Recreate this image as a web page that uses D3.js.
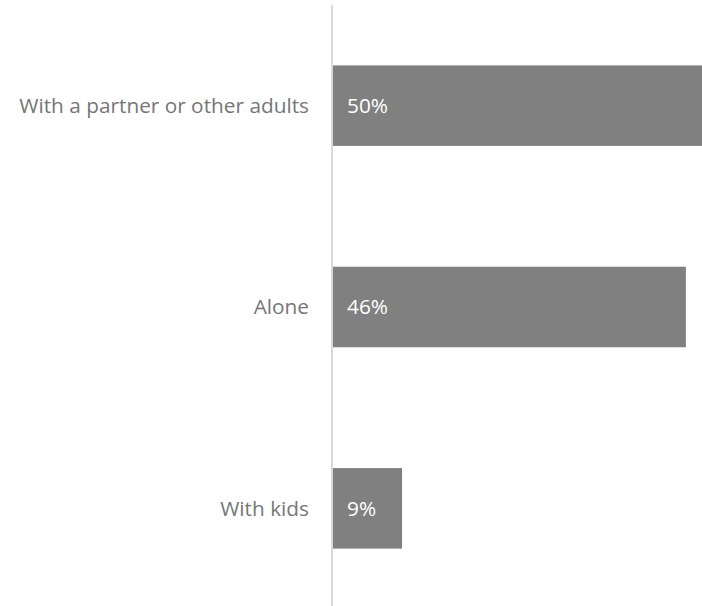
<!DOCTYPE html>
<html><head><meta charset="utf-8">
<script src="https://cdn.jsdelivr.net/npm/d3@7"></script>
<style>html,body{margin:0;padding:0;background:#fff;}svg{display:block;}</style>
</head><body>
<svg id="chart" width="702" height="606"></svg>
<script>
const categories = ["With a partner or other adults", "Alone", "With kids"];
const values = [50, 46, 9];
const valueLabels = ["50%", "46%", "9%"];

const W = 702, H = 606;
const svg = d3.select("#chart");
const x0 = 333;
const x = d3.scaleLinear().domain([0, 48.1]).range([x0, 702]);
const y = d3.scaleBand().domain(categories).range([5, 609]).paddingInner(0.6).paddingOuter(0.3);

svg.selectAll("rect.bar").data(categories).join("rect")
  .attr("class", "bar")
  .attr("x", x(0))
  .attr("y", d => y(d))
  .attr("width", (d, i) => x(values[i]) - x(0))
  .attr("height", y.bandwidth())
  .attr("fill", "#808080");

svg.append("line")
  .attr("x1", 332).attr("x2", 332)
  .attr("y1", 5).attr("y2", 606)
  .attr("stroke", "#d9d9d9").attr("stroke-width", 2);

const font = "'Open Sans', 'Noto Sans', sans-serif";
svg.selectAll("text.cat").data(categories).join("text")
  .attr("class", "cat")
  .attr("x", 309)
  .attr("y", d => y(d) + y.bandwidth() / 2)
  .attr("dy", "0.35em")
  .attr("text-anchor", "end")
  .attr("font-family", font)
  .attr("font-size", 20.8)
  .attr("fill", "#767676")
  .text(d => d);

svg.selectAll("text.val").data(categories).join("text")
  .attr("class", "val")
  .attr("x", x(0) + 14)
  .attr("y", d => y(d) + y.bandwidth() / 2)
  .attr("dy", "0.35em")
  .attr("font-family", font)
  .attr("font-size", 20.8)
  .attr("fill", "#ffffff")
  .text((d, i) => valueLabels[i]);
</script>
</body></html>
